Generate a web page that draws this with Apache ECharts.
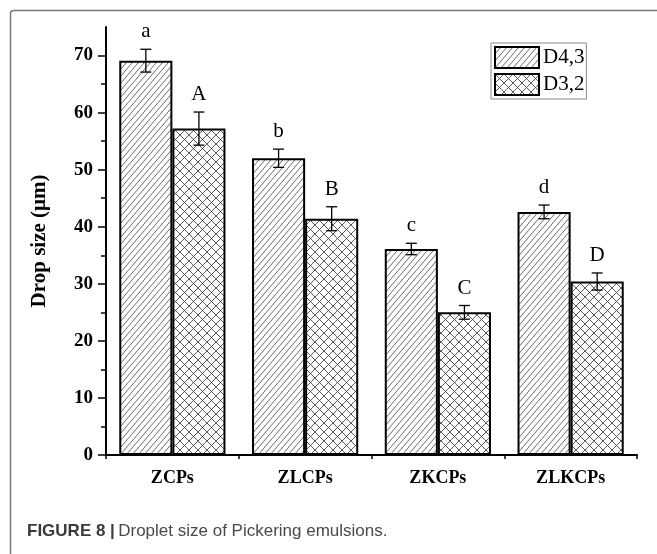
<!DOCTYPE html>
<html>
<head>
<meta charset="utf-8">
<script src="https://cdn.jsdelivr.net/npm/echarts@6/dist/echarts.min.js"></script>
<style>
  html, body { margin: 0; padding: 0; background: #fff; }
  #chart { width: 657px; height: 554px; }
</style>
</head>
<body>
<div id="chart"></div>
<script>
// Droplet size of Pickering emulsions, mean ± error, with significance letters
const categories = ['ZCPs', 'ZLCPs', 'ZKCPs', 'ZLKCPs'];
const d43 = [69.1, 52.0, 36.1, 42.6];
const d43Err = [2.0, 1.6, 1.0, 1.2];
const d43Letters = ['a', 'b', 'c', 'd'];
const d32 = [57.2, 41.4, 25.0, 30.4];
const d32Err = [2.9, 2.1, 1.2, 1.5];
const d32Letters = ['A', 'B', 'C', 'D'];
const yMajorTicks = [0, 10, 20, 30, 40, 50, 60, 70];
const yMinorTicks = [5, 15, 25, 35, 45, 55, 65];

const SERIF = '"Liberation Serif", "Times New Roman", serif';

// Hatch fills built on small canvas tiles
function diagonalTile(w, h, color) {
  const c = document.createElement('canvas');
  c.width = w; c.height = h;
  const ctx = c.getContext('2d');
  ctx.strokeStyle = color;
  ctx.lineWidth = 0.8;
  for (let k = -1; k <= 1; k++) {
    ctx.beginPath();
    ctx.moveTo(k * w, h);
    ctx.lineTo(k * w + w, 0);
    ctx.stroke();
  }
  return c;
}
function crossTile(s, color) {
  const c = document.createElement('canvas');
  c.width = s; c.height = s;
  const ctx = c.getContext('2d');
  ctx.strokeStyle = color;
  ctx.lineWidth = 0.8;
  for (let k = -1; k <= 1; k++) {
    ctx.beginPath();
    ctx.moveTo(k * s, s); ctx.lineTo(k * s + s, 0);
    ctx.moveTo(k * s, 0); ctx.lineTo(k * s + s, s);
    ctx.stroke();
  }
  return c;
}
const hatchFill = { image: diagonalTile(6, 7, '#444'), repeat: 'repeat' };
const crossFill = { image: crossTile(9, '#333'), repeat: 'repeat' };

// Error bars and letters drawn at each bar's position in the band
function errorSeries(name, values, errs, letters, side) {
  return {
    type: 'custom',
    name: name,
    xAxisIndex: 0,
    yAxisIndex: 0,
    z: 5,
    silent: true,
    data: values.map((v, i) => [i, v, errs[i]]),
    renderItem(params, api) {
      const i = api.value(0), v = api.value(1), e = api.value(2);
      const band = api.size([1, 0])[0];
      const cx = api.coord([i, v])[0] + side * band * 0.2;
      const top = api.coord([i, v + e])[1];
      const bot = api.coord([i, v - e])[1];
      const half = 5.5;
      const ls = { stroke: '#000', lineWidth: 1.3 };
      return {
        type: 'group',
        children: [
          { type: 'line', shape: { x1: cx, y1: top, x2: cx, y2: bot }, style: ls },
          { type: 'line', shape: { x1: cx - half, y1: top, x2: cx + half, y2: top }, style: ls },
          { type: 'line', shape: { x1: cx - half, y1: bot, x2: cx + half, y2: bot }, style: ls },
          {
            type: 'text', x: cx, y: top - 7,
            style: {
              text: letters[params.dataIndex], fill: '#000',
              font: '21px ' + SERIF, align: 'center', verticalAlign: 'bottom'
            }
          }
        ]
      };
    }
  };
}

const chart = echarts.init(document.getElementById('chart'), null, { renderer: 'canvas' });

chart.setOption({
  animation: false,
  backgroundColor: '#fff',
  grid: { left: 106, right: 20, top: 27, bottom: 99 },
  legend: {
    data: ['D4,3', 'D3,2'],
    orient: 'vertical',
    left: 491,
    top: 43,
    icon: 'rect',
    itemWidth: 44,
    itemHeight: 21,
    itemGap: 4,
    padding: [3, 2, 3, 3],
    borderColor: '#888',
    borderWidth: 1,
    selectedMode: false,
    textStyle: { fontFamily: SERIF, fontSize: 21, color: '#000', padding: [0, 0, 0, -1] }
  },
  xAxis: [
    {
      type: 'category',
      data: categories,
      position: 'bottom',
      axisLine: { lineStyle: { color: '#000', width: 2 } },
      axisTick: { alignWithLabel: true, length: 8, lineStyle: { color: '#000', width: 1.5 } },
      axisLabel: { fontFamily: SERIF, fontWeight: 'bold', fontSize: 18, color: '#000', margin: 14 }
    },
    {
      type: 'category',
      data: categories,
      position: 'bottom',
      axisLine: { show: false },
      axisTick: { show: true, length: 4, lineStyle: { color: '#000', width: 1.5 } },
      axisLabel: { show: false }
    }
  ],
  yAxis: [
    {
      type: 'value',
      min: 0, max: 75, interval: 5,
      position: 'left',
      name: 'Drop size (μm)',
      nameLocation: 'middle',
      nameGap: 56,
      nameTextStyle: { fontFamily: SERIF, fontWeight: 'bold', fontSize: 21, color: '#000' },
      axisLine: { show: true, lineStyle: { color: '#000', width: 2 } },
      axisTick: { show: true, customValues: yMajorTicks, length: 8, lineStyle: { color: '#000', width: 1.5 } },
      axisLabel: { customValues: yMajorTicks, fontFamily: SERIF, fontWeight: 'bold', fontSize: 19, color: '#000', margin: 13 },
      splitLine: { show: false }
    },
    {
      type: 'value',
      min: 0, max: 75, interval: 5,
      position: 'left',
      axisLine: { show: false },
      axisTick: { show: true, customValues: yMinorTicks, length: 5, lineStyle: { color: '#000', width: 1.5 } },
      axisLabel: { show: false },
      splitLine: { show: false }
    }
  ],
  series: [
    {
      type: 'bar', name: 'D4,3', data: d43,
      barGap: '0%', barCategoryGap: '20%',
      itemStyle: { color: hatchFill, borderColor: '#000', borderWidth: 2 }
    },
    {
      type: 'bar', name: 'D3,2', data: d32,
      barGap: '0%', barCategoryGap: '20%',
      itemStyle: { color: crossFill, borderColor: '#000', borderWidth: 2 }
    },
    errorSeries('D4,3 error', d43, d43Err, d43Letters, -1),
    errorSeries('D3,2 error', d32, d32Err, d32Letters, 1)
  ],
  graphic: [
    {
      type: 'rect', left: 8, top: 8, silent: true,
      shape: { width: 700, height: 600, r: 3 },
      style: { fill: 'none', stroke: '#777', lineWidth: 1.5 }
    },
    {
      type: 'text', left: 27, top: 523, silent: true,
      style: {
        text: '{b|FIGURE 8 |} {n|Droplet size of Pickering emulsions.}',
        rich: {
          b: { fontFamily: '"Liberation Sans", Arial, sans-serif', fontWeight: 'bold', fontSize: 17, fill: '#3a3a3a' },
          n: { fontFamily: '"Liberation Sans", Arial, sans-serif', fontSize: 17, fill: '#4a4a4a' }
        }
      }
    }
  ]
});
</script>
</body>
</html>
